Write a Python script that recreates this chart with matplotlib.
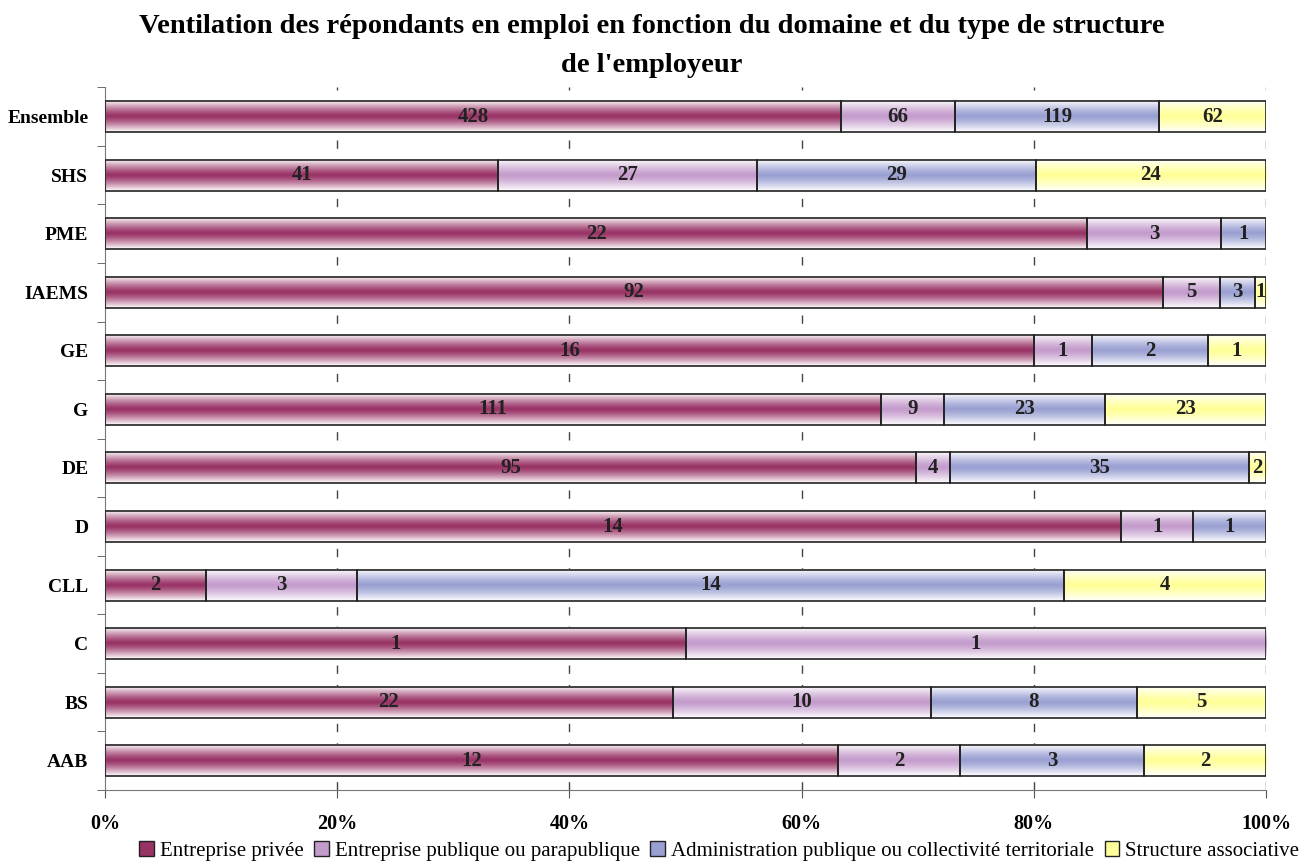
import numpy as np
import matplotlib
matplotlib.use("Agg")
from matplotlib import pyplot as plt
from matplotlib.colors import LinearSegmentedColormap
from matplotlib.patches import Rectangle, Patch

plt.rcParams['font.family'] = ['Liberation Serif', 'DejaVu Serif']

# data (bottom to top)
domains = ["AAB", "BS", "C", "CLL", "D", "DE", "G", "GE", "IAEMS", "PME", "SHS", "Ensemble"]
privee = [12, 22, 1, 2, 14, 95, 111, 16, 92, 22, 41, 428]
publique = [2, 10, 1, 3, 1, 4, 9, 1, 5, 3, 27, 66]
admin = [3, 8, 0, 14, 1, 35, 23, 2, 3, 1, 29, 119]
asso = [2, 5, 0, 4, 0, 2, 23, 1, 1, 0, 24, 62]
series_names = ["Entreprise privée", "Entreprise publique ou parapublique",
                "Administration publique ou collectivité territoriale", "Structure associative"]
colors = ["#993366", "#c49ccc", "#9aa0d2", "#ffff99"]

counts = np.array([privee, publique, admin, asso], dtype=float)
totals = counts.sum(axis=0)
shares = counts / totals

fig = plt.figure(figsize=(13.03, 8.65), dpi=100)
ax = fig.add_axes([0.0806, 0.0867, 0.891, 0.8123])

bar_h = 0.53
t = np.linspace(-1, 1, 80)
grad = (1 - np.abs(t) ** 1.3).reshape(-1, 1)

for s in range(4):
    cmap = LinearSegmentedColormap.from_list("g%d" % s, ["white", colors[s]])
    lefts = shares[:s].sum(axis=0)
    for i in range(len(domains)):
        w = shares[s, i]
        if w <= 0:
            continue
        l = lefts[i]
        ax.imshow(grad, extent=[l, l + w, i - bar_h / 2, i + bar_h / 2], aspect='auto',
                  cmap=cmap, vmin=0, vmax=1.0, zorder=2, interpolation='bilinear')
        ax.add_patch(Rectangle((l, i - bar_h / 2), w, bar_h, fill=False,
                               edgecolor='#222222', linewidth=1.2, zorder=3))
        ax.text(l + w / 2, i, "%d" % counts[s, i], ha='center', va='center',
                fontsize=15, fontweight='bold', color='#222222', zorder=4)

ax.set_xlim(0, 1)
ax.set_ylim(-0.5, len(domains) - 0.5)

ax.set_xticks(np.arange(0, 1.01, 0.2))
ax.set_xticklabels(["%d%%" % (v * 100) for v in np.arange(0, 1.01, 0.2)],
                   fontsize=14.5, fontweight='bold')
ax.set_yticks(range(len(domains)))
ax.set_yticklabels(domains, fontsize=14, fontweight='bold')
ax.set_yticks(np.arange(-0.5, len(domains), 1.0), minor=True)
ax.tick_params(axis='y', which='major', length=0, pad=12)
ax.tick_params(axis='y', which='minor', length=6, color='#555555')
ax.tick_params(axis='x', length=6, color='#555555', pad=11)

for x in np.arange(0.2, 1.01, 0.2):
    ax.axvline(x, color='#444444', linestyle=(0, (6, 8)), linewidth=1, zorder=1)

for side in ['top', 'right']:
    ax.spines[side].set_visible(False)
for side in ['left', 'bottom']:
    ax.spines[side].set_color('#777777')

# title on two lines
fig.text(0.5, 0.9618, "Ventilation des répondants en emploi en fonction du domaine et du type de structure",
         ha='center', va='baseline', fontsize=20.5, fontweight='bold')
fig.text(0.5, 0.9168, "de l'employeur",
         ha='center', va='baseline', fontsize=20.5, fontweight='bold')

handles = [Patch(facecolor=c, edgecolor='#222222') for c in colors]
fig.legend(handles, series_names, loc='center', bbox_to_anchor=(0.552, 0.016), ncol=4,
           frameon=False, fontsize=15, handlelength=0.7, handleheight=0.7,
           handletextpad=0.3, columnspacing=0.5, borderaxespad=0)

fig.savefig("out.png", dpi=100)
